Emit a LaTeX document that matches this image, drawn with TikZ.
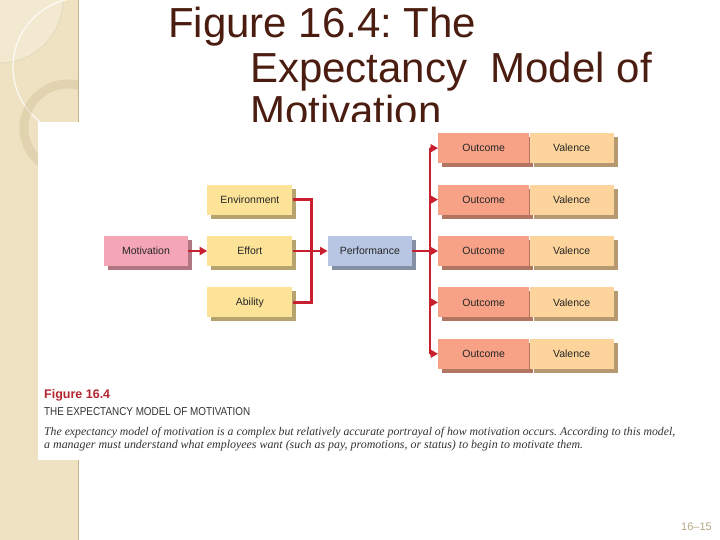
\documentclass[tikz,border=0pt]{standalone}
\usepackage{fontspec}
\setmainfont{Liberation Serif}
\setsansfont{Liberation Sans}
\usepackage{tikz}
\usetikzlibrary{arrows.meta, shapes, shadows, positioning}

\definecolor{stripbg}{HTML}{EFE2C2}
\definecolor{stripline}{HTML}{C4B288}
\definecolor{titlebrown}{HTML}{4A1D10}
\definecolor{linkred}{HTML}{C8202E}
\definecolor{motpink}{HTML}{F4A5B6}
\definecolor{factyellow}{HTML}{FDE398}
\definecolor{perfblue}{HTML}{B8C6E3}
\definecolor{outsalmon}{HTML}{F7A287}
\definecolor{valpeach}{HTML}{FDD49B}
\definecolor{capred}{HTML}{B3262F}

\tikzset{
  box/.style={rectangle, inner sep=0pt, minimum height=30pt, minimum width=84pt,
    font=\sffamily\fontsize{10.5}{12}\selectfont, text=black!85,
    fill=#1, drop shadow={shadow xshift=4pt, shadow yshift=-4pt, fill=#1!72!black, opacity=1}},
  link/.style={draw=linkred, line width=2.8pt},
  linkarrow/.style={link, -{Triangle[length=7.5pt,width=8pt]}},
}

\begin{document}
\frenchspacing
\begin{tikzpicture}[x=1pt, y=1pt, node distance=21pt and 19pt]
  \useasboundingbox (0,0) rectangle (720,540);
  % slide strip
  \fill[stripbg] (0,0) rectangle (78,540);
  \begin{scope}
    \clip (0,0) rectangle (78,540);
    \fill[white, opacity=.25] (0,540) circle (63);
    \draw[stripline!60, line width=.5pt] (0,540) circle (63);
    \draw[white, opacity=.8, line width=1.2pt] (82,473) circle (69);
    \draw[stripline, opacity=.3, line width=9pt] (68,412) circle (44);
  \end{scope}
  \draw[stripline, line width=1pt] (78,0) -- (78,540);

  % title
  \node[anchor=base west, inner sep=0pt, text=titlebrown, font=\sffamily\fontsize{42}{44}\selectfont] (t1) at (168,502) {Figure 16.4: The};
  \node[anchor=base west, inner sep=0pt, text=titlebrown, font=\sffamily\fontsize{42}{44}\selectfont] (t2) at (250,457) {Expectancy\ \ Model of};
  \node[anchor=base west, inner sep=0pt, text=titlebrown, font=\sffamily\fontsize{42}{44}\selectfont] (t3) at (250,414) {Motivation};

  % figure panel
  \fill[white] (38,80) rectangle (690,418);

  % diagram
  \node[box=motpink] (mot) at (146,289) {Motivation};
  \node[box=factyellow, minimum width=85pt, right=of mot] (eff) {Effort};
  \node[box=factyellow, minimum width=85pt, above=of eff] (env) {Environment};
  \node[box=factyellow, minimum width=85pt, below=of eff] (abl) {Ability};
  \node[box=perfblue, right=35pt of eff] (perf) {Performance};

  \node[box=outsalmon, minimum width=91pt, right=26pt of perf] (out3) {Outcome};
  \node[box=outsalmon, minimum width=91pt, above=of out3] (out2) {Outcome};
  \node[box=outsalmon, minimum width=91pt, above=of out2] (out1) {Outcome};
  \node[box=outsalmon, minimum width=91pt, below=of out3] (out4) {Outcome};
  \node[box=outsalmon, minimum width=91pt, below=of out4] (out5) {Outcome};
  \foreach \i in {1,...,5}
    \node[box=valpeach, right=0pt of out\i] (val\i) {Valence};

  \coordinate[right=19pt of eff.east] (jA);
  \coordinate[right=18pt of perf.east] (jB);

  \draw[linkarrow] (mot) -- (eff);
  \draw[link] (env.east) -| (jA) |- (abl.east);
  \draw[linkarrow] (eff) -- (perf);
  \draw[link] (perf.east) -- (jB);
  \draw[link] (jB |- out1.west) -- (jB |- out5.west);
  \foreach \i in {1,...,5}
    \draw[linkarrow] (jB |- out\i.west) -- (out\i.west);

  % caption
  \node[anchor=base west, inner sep=0pt, text=capred, font=\sffamily\bfseries\fontsize{12.5}{14}\selectfont] (cap) at (44,141) {Figure 16.4};
  \node[anchor=base west, inner sep=0pt, text=black!80] (capttl) at (44,124)
    {\resizebox{206pt}{8pt}{\sffamily THE EXPECTANCY MODEL OF MOTIVATION}};
  \node[anchor=base west, inner sep=0pt, text=black!80] (capl1) at (44,104)
    {\resizebox{631pt}{!}{\itshape The expectancy model of motivation is a complex but relatively accurate portrayal of how motivation occurs. According to this model,}};
  \node[anchor=base west, inner sep=0pt, text=black!80] (capl2) at (44,91)
    {\resizebox{539pt}{!}{\itshape a manager must understand what employees want (such as pay, promotions, or status) to begin to motivate them.}};

  % page number
  \node[anchor=base west, inner sep=0pt, text=stripline!80!gray, font=\sffamily\fontsize{11}{13}\selectfont] (pgno) at (681,9) {16--15};
\end{tikzpicture}
\end{document}
